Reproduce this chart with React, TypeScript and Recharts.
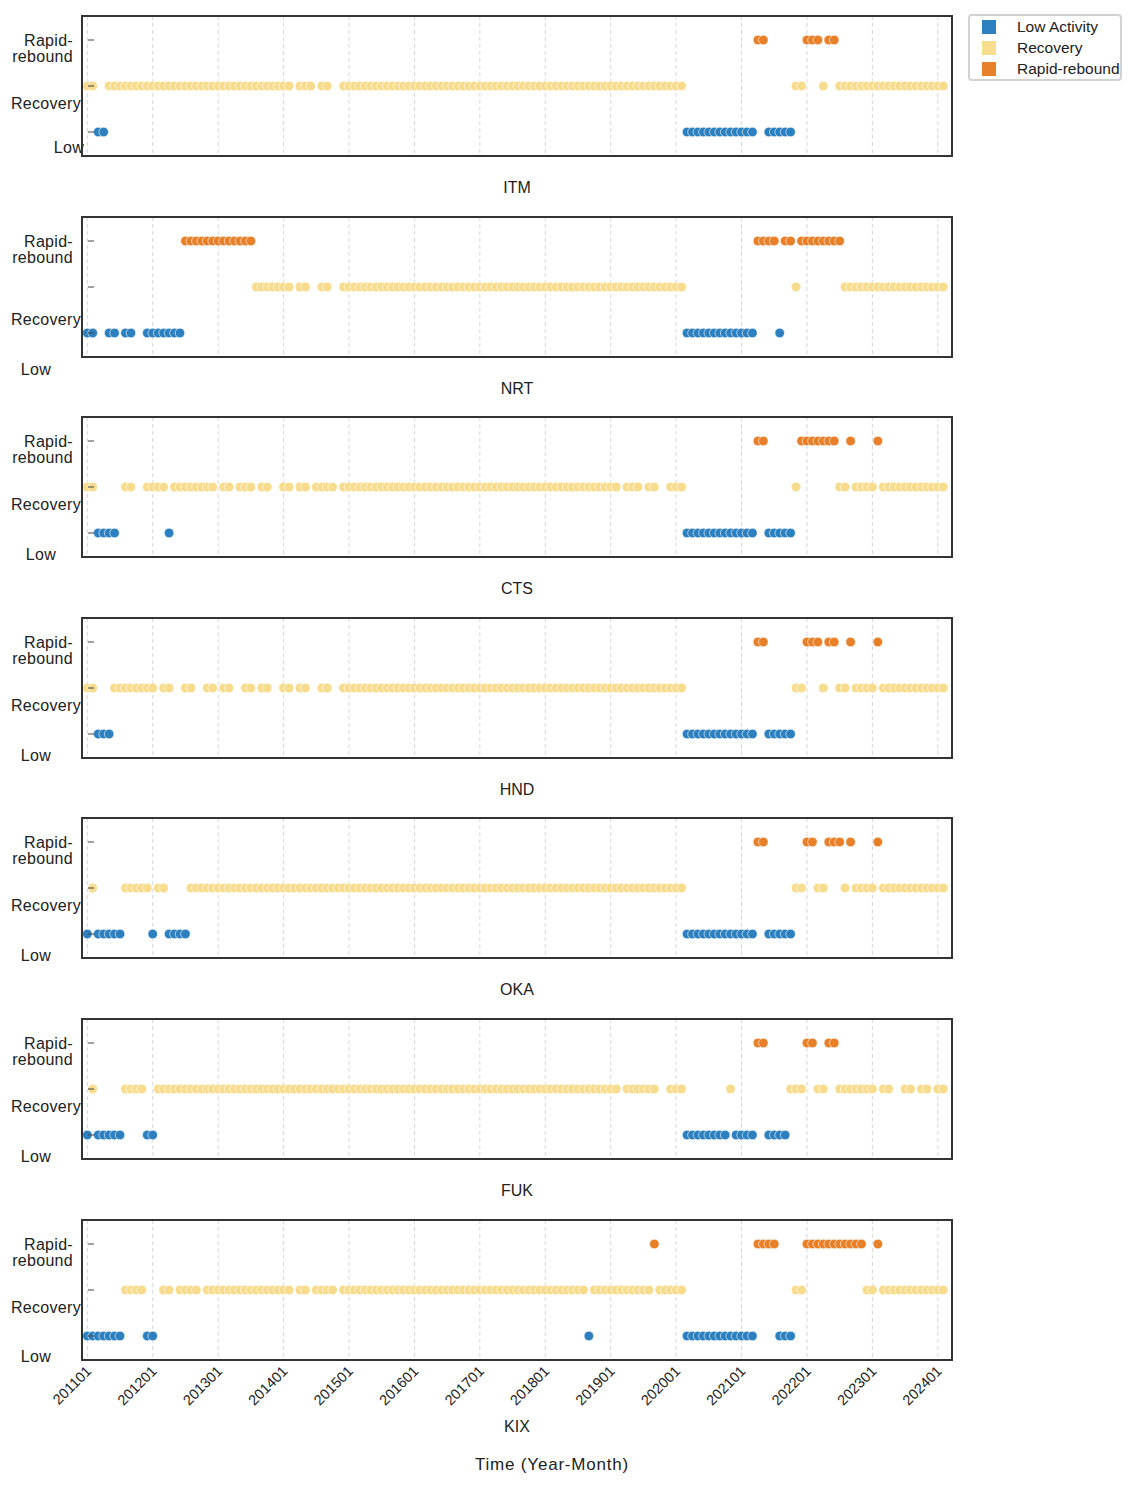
import { CartesianGrid, Legend, Scatter, ScatterChart, XAxis, YAxis } from "recharts"

// one string per year (2011 ... 2024), one letter per month
// L = Low Activity, R = Recovery, B = Rapid-rebound, . = no value
const ITM = [
  "RRLLRRRRRRRR",
  "RRRRRRRRRRRR",
  "RRRRRRRRRRRR",
  "RR.RRR.RR..R",
  "RRRRRRRRRRRR",
  "RRRRRRRRRRRR",
  "RRRRRRRRRRRR",
  "RRRRRRRRRRRR",
  "RRRRRRRRRRRR",
  "RRLLLLLLLLLL",
  "LLLBBLLLLLRR",
  "BBBRBBRRRRRR",
  "RRRRRRRRRRRR",
  "RR",
]

const NRT = [
  "LL..LL.LL..L",
  "LLLLLLBBBBBB",
  "BBBBBBBRRRRR",
  "RR.RR..RR..R",
  "RRRRRRRRRRRR",
  "RRRRRRRRRRRR",
  "RRRRRRRRRRRR",
  "RRRRRRRRRRRR",
  "RRRRRRRRRRRR",
  "RRLLLLLLLLLL",
  "LLLBBBBLBBRB",
  "BBBBBBBRRRRR",
  "RRRRRRRRRRRR",
  "RR",
]

const CTS = [
  "RRLLLL.RR..R",
  "RRRLRRRRRRRR",
  ".RR.RRR.RR..",
  "RR.RR.RRRR.R",
  "RRRRRRRRRRRR",
  "RRRRRRRRRRRR",
  "RRRRRRRRRRRR",
  "RRRRRRRRRRRR",
  "RR.RRR.RR..R",
  "RRLLLLLLLLLL",
  "LLLBBLLLLLRB",
  "BBBBBBRRBRRR",
  "RBRRRRRRRRRR",
  "RR",
]

const HND = [
  "RRLLLRRRRRRR",
  "R.RR..RR..RR",
  ".RR..RR.RR..",
  "RR.RR..RR..R",
  "RRRRRRRRRRRR",
  "RRRRRRRRRRRR",
  "RRRRRRRRRRRR",
  "RRRRRRRRRRRR",
  "RRRRRRRRRRRR",
  "RRLLLLLLLLLL",
  "LLLBBLLLLLRR",
  "BBBRBBRRBRRR",
  "RBRRRRRRRRRR",
  "RR",
]

const OKA = [
  "LRLLLLLRRRRR",
  "LRRLLLLRRRRR",
  "RRRRRRRRRRRR",
  "RRRRRRRRRRRR",
  "RRRRRRRRRRRR",
  "RRRRRRRRRRRR",
  "RRRRRRRRRRRR",
  "RRRRRRRRRRRR",
  "RRRRRRRRRRRR",
  "RRLLLLLLLLLL",
  "LLLBBLLLLLRR",
  "BBRRBBBRBRRR",
  "RBRRRRRRRRRR",
  "RR",
]

const FUK = [
  "LRLLLLLRRRRL",
  "LRRRRRRRRRRR",
  "RRRRRRRRRRRR",
  "RRRRRRRRRRRR",
  "RRRRRRRRRRRR",
  "RRRRRRRRRRRR",
  "RRRRRRRRRRRR",
  "RRRRRRRRRRRR",
  "RR.RRRRRR..R",
  "RRLLLLLLLLRL",
  "LLLBBLLLLRRR",
  "BBRRBBRRRRRR",
  "R.RR..RR.RR.",
  "RR",
]

const KIX = [
  "LLLLLLLRRRRL",
  "L.RR.RRRR.RR",
  "RRRRRRRRRRRR",
  "RR.RR.RRRR.R",
  "RRRRRRRRRRRR",
  "RRRRRRRRRRRR",
  "RRRRRRRRRRRR",
  "RRRRRRRRLRRR",
  "RRRRRRRRBRRR",
  "RRLLLLLLLLLL",
  "LLLBBBBLLLRR",
  "BBBBBBBBBBBR",
  "RBRRRRRRRRRR",
  "RR",
]

const AIRPORTS = [
  { name: "ITM", rows: ITM },
  { name: "NRT", rows: NRT },
  { name: "CTS", rows: CTS },
  { name: "HND", rows: HND },
  { name: "OKA", rows: OKA },
  { name: "FUK", rows: FUK },
  { name: "KIX", rows: KIX },
]

const TICK_LABELS = [
  "201101", "201201", "201301", "201401", "201501", "201601", "201701",
  "201801", "201901", "202001", "202101", "202201", "202301", "202401",
]

const STATES = [
  { code: "L", name: "Low Activity", value: 0, color: "#2d80bf" },
  { code: "R", name: "Recovery", value: 1, color: "#f7dc8e" },
  { code: "B", name: "Rapid-rebound", value: 2, color: "#e8802a" },
]

const monthIndex = (label: string) =>
  (Number(label.slice(0, 4)) - 2011) * 12 + Number(label.slice(4)) - 1
const TICKS = TICK_LABELS.map(monthIndex)

const FONT = "'Liberation Sans', Arial, Helvetica, sans-serif"
const FRAME_TOPS = [16, 217, 417, 618, 818, 1019, 1220]
const FRAME_LEFT = 82
const FRAME_RIGHT = 952
const FRAME_H = 140

// where the tick labels sit, per panel (offsets from the axis / tick row)
const LOW_LABEL: Record<string, [number, number]> = {
  ITM: [2, 16],
  NRT: [-31, 37],
  CTS: [-26, 22],
  HND: [-31, 22],
  OKA: [-31, 22],
  FUK: [-31, 22],
  KIX: [-31, 21],
}
const REC_DY: Record<string, number> = { NRT: 32 }

function points(rows: string[], code: string, value: number) {
  const out: { m: number; v: number }[] = []
  rows.forEach((row, yi) => {
    row.split("").forEach((c, mi) => {
      if (c === code) out.push({ m: yi * 12 + mi, v: value })
    })
  })
  return out
}

function makeYTick(airport: string) {
  return function YTick(props: any) {
    const { y, payload } = props
    const x = FRAME_LEFT
    const v = payload.value
    const txt = { fontSize: 16, fill: "#222", fontFamily: FONT, letterSpacing: 0.3 }
    let label = null
    if (v === 2) {
      label = (
        <text textAnchor="end" dominantBaseline="central" {...txt}>
          <tspan x={x - 9} y={y}>Rapid-</tspan>
          <tspan x={x - 9} y={y + 16}>rebound</tspan>
        </text>
      )
    } else if (v === 1) {
      label = (
        <text x={x - 1} y={y + (REC_DY[airport] ?? 17)} textAnchor="end" dominantBaseline="central" {...txt}>
          Recovery
        </text>
      )
    } else {
      const [dx, dy] = LOW_LABEL[airport]
      label = (
        <text x={x + dx} y={y + dy} textAnchor="end" dominantBaseline="central" {...txt}>
          Low
        </text>
      )
    }
    return (
      <g>
        <line x1={x + 6} x2={x + 12} y1={y} y2={y} stroke="#444" strokeWidth={1} />
        {label}
      </g>
    )
  }
}

function XTick(props: any) {
  const { x, y, payload } = props
  const label = TICK_LABELS[TICKS.indexOf(payload.value)]
  const tx = x + 5
  const ty = y + 12
  return (
    <text
      x={tx}
      y={ty}
      textAnchor="end"
      transform={`rotate(-45 ${tx} ${ty})`}
      fontSize={14.5}
      fill="#222"
      fontFamily={FONT}
    >
      {label}
    </text>
  )
}

function NoTick() {
  return <g />
}

function LegendBox() {
  return (
    <div
      style={{
        width: 154,
        height: 67,
        boxSizing: "border-box",
        border: "2px solid #d2d2d2",
        borderRadius: 4,
        background: "#fff",
        paddingLeft: 12,
        fontFamily: FONT,
        fontSize: 15.5,
        color: "#222",
      }}
    >
      {STATES.map((s) => (
        <div key={s.code} style={{ display: "flex", alignItems: "center", height: 21 }}>
          <span style={{ width: 14, height: 14, background: s.color, marginRight: 21, flex: "none" }} />
          <span style={{ whiteSpace: "nowrap" }}>{s.name}</span>
        </div>
      ))}
    </div>
  )
}

function Panel({ name, rows, index }: { name: string; rows: string[]; index: number }) {
  const top = FRAME_TOPS[index]
  const last = index === AIRPORTS.length - 1
  const bottom = last ? 60 : 30
  const height = 16 + FRAME_H + bottom
  const titleY = last ? top + FRAME_H + 67 : top + FRAME_H + 32
  const YTick = makeYTick(name)

  return (
    <>
      <div style={{ position: "absolute", left: 0, top: top - 16 }}>
        <ScatterChart
          width={1131}
          height={height}
          style={{ overflow: "visible" }}
          margin={{ top: 16, right: 1131 - FRAME_RIGHT, bottom: last ? 0 : bottom - 1, left: FRAME_LEFT - 20 }}
        >
          <CartesianGrid horizontal={false} strokeDasharray="4 3" stroke="#d8d8d8" />
          <XAxis
            type="number"
            dataKey="m"
            domain={[-0.972, 158.6]}
            ticks={TICKS}
            interval={0}
            allowDataOverflow
            axisLine={false}
            tickLine={false}
            tickSize={0}
            tickMargin={0}
            height={last ? 60 : 1}
            tick={last ? <XTick /> : <NoTick />}
          />
          <YAxis
            type="number"
            dataKey="v"
            domain={[-0.522, 2.522]}
            ticks={[0, 1, 2]}
            interval={0}
            allowDataOverflow
            width={20}
            axisLine={false}
            tickLine={false}
            tickSize={0}
            tickMargin={0}
            tick={(p: any) => <YTick {...p} />}
          />
          {STATES.map((s) => (
            <Scatter
              key={s.code}
              name={s.name}
              data={points(rows, s.code, s.value)}
              fill={s.color}
              isAnimationActive={false}
              shape={(p: any) => (
                <circle cx={p.cx} cy={p.cy} r={4.8} fill={s.color} stroke="#fff" strokeWidth={0.6} />
              )}
            />
          ))}
          {index === 0 && (
            <Legend
              layout="vertical"
              align="center"
              verticalAlign="middle"
              wrapperStyle={{ left: 968, top: 14, width: 154, height: 67 }}
              content={<LegendBox />}
            />
          )}
        </ScatterChart>
      </div>
      <div
        style={{
          position: "absolute",
          left: FRAME_LEFT - 1,
          top: top - 1,
          width: FRAME_RIGHT - FRAME_LEFT + 2,
          height: FRAME_H + 2,
          boxSizing: "border-box",
          border: "2px solid #333",
          pointerEvents: "none",
        }}
      />
      <div
        style={{
          position: "absolute",
          left: (FRAME_LEFT + FRAME_RIGHT) / 2 - 100,
          width: 200,
          top: titleY - 10,
          height: 20,
          lineHeight: "20px",
          textAlign: "center",
          fontSize: 16,
          color: "#222",
        }}
      >
        {name}
      </div>
    </>
  )
}

export default function App() {
  return (
    <div style={{ position: "relative", width: 1131, height: 1485, fontFamily: FONT, background: "#fff" }}>
      <style>{"body{margin:0}"}</style>
      {AIRPORTS.map((a, i) => (
        <Panel key={a.name} name={a.name} rows={a.rows} index={i} />
      ))}
      <div
        style={{
          position: "absolute",
          left: 452,
          width: 200,
          top: 1455,
          height: 20,
          lineHeight: "20px",
          textAlign: "center",
          fontSize: 17,
          letterSpacing: 0.8,
          color: "#222",
        }}
      >
        Time (Year-Month)
      </div>
    </div>
  )
}
